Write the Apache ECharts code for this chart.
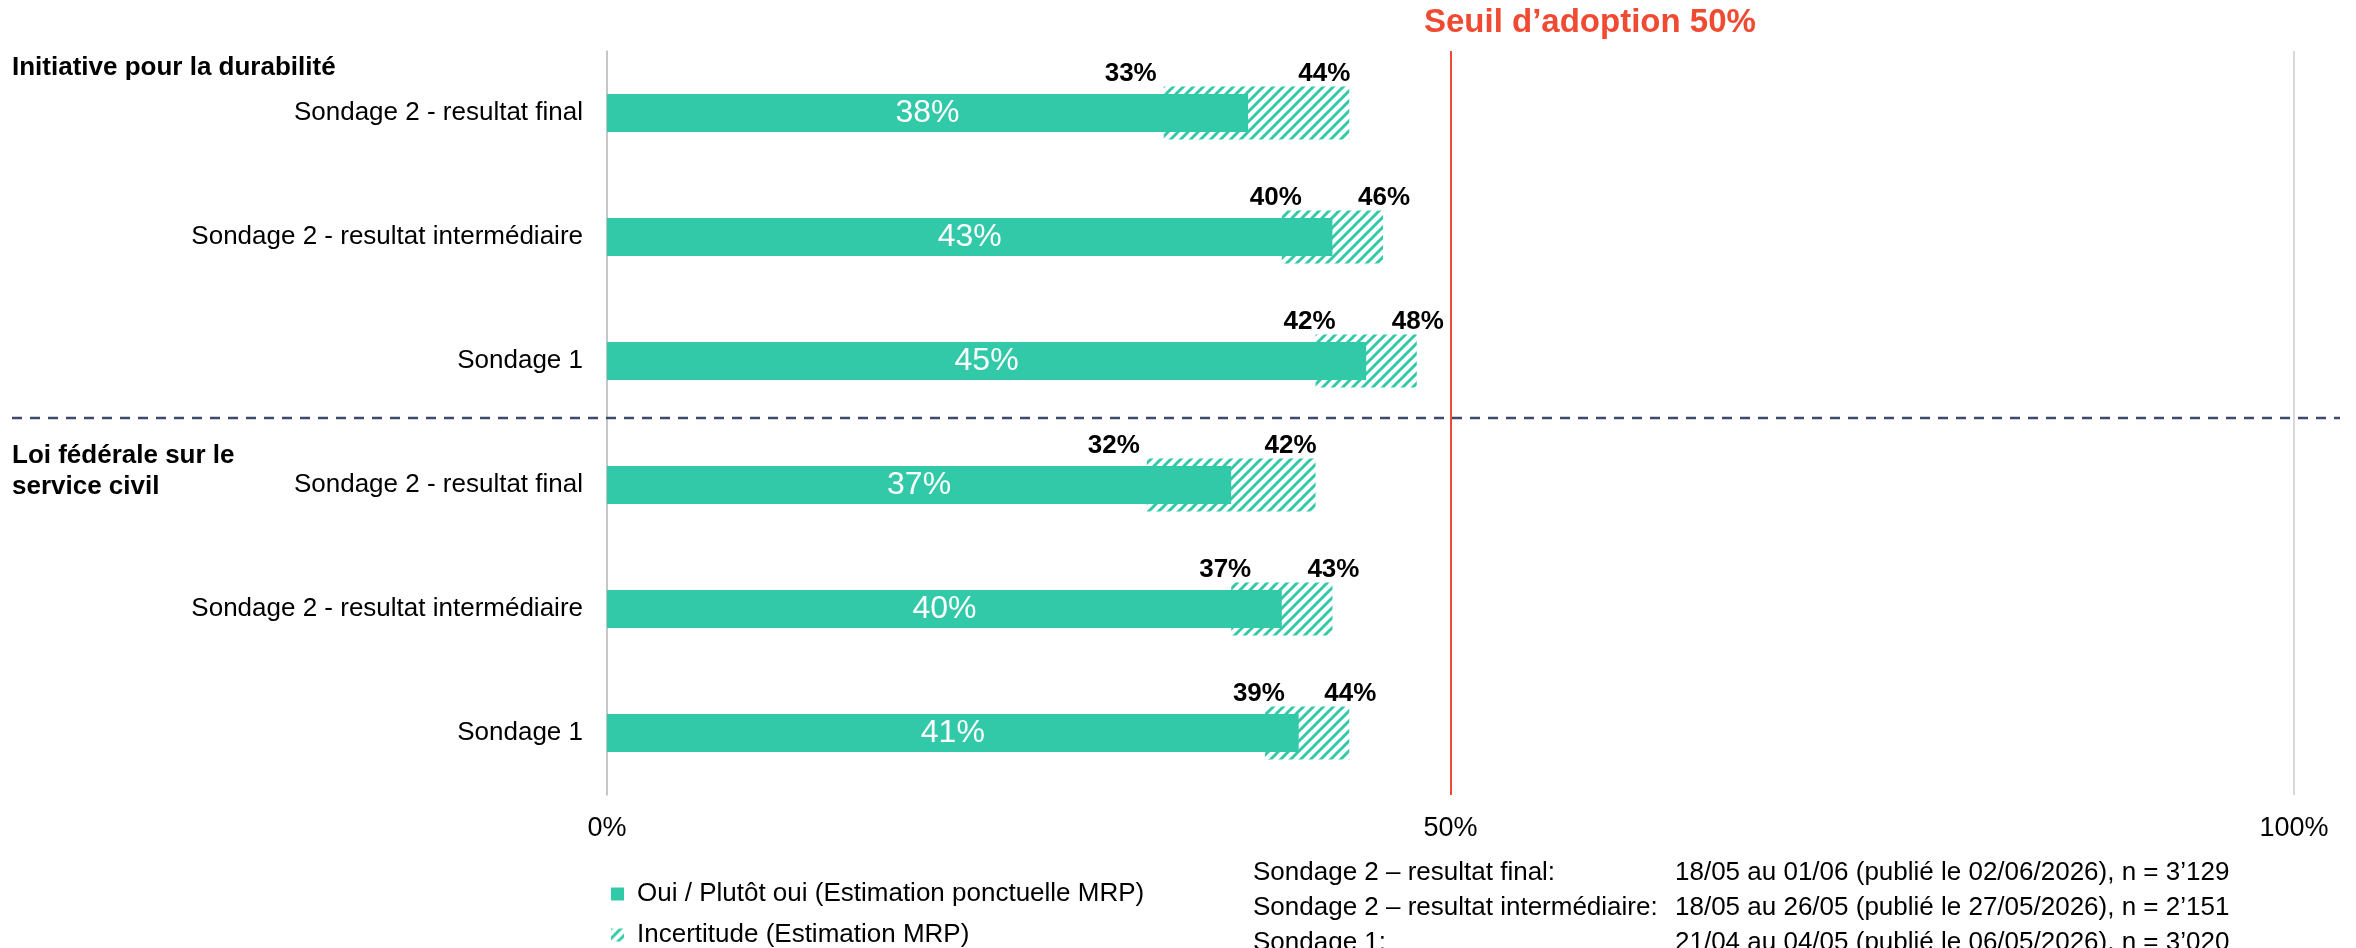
<!DOCTYPE html>
<html><head><meta charset="utf-8">
<script src="https://cdn.jsdelivr.net/npm/echarts@6/dist/echarts.min.js"></script>
<style>html,body{margin:0;padding:0;background:#fff}#c{width:2356px;height:948px}</style>
</head><body><div id="c"></div>
<script>
// ---- data ----
const categories = [
  'Sondage 2 - resultat final',
  'Sondage 2 - resultat intermédiaire',
  'Sondage 1',
  'Sondage 2 - resultat final',
  'Sondage 2 - resultat intermédiaire',
  'Sondage 1'
];
const estimate  = [38, 43, 45, 37, 40, 41];
const lowBound  = [33, 40, 42, 32, 37, 39];
const highBound = [44, 46, 48, 42, 43, 44];
const xTickValues = [0, 50, 100];
const groupLabels = ['Initiative pour la durabilité', 'Loi fédérale sur le\nservice civil'];
const legendNames = ['Oui / Plutôt oui (Estimation ponctuelle MRP)', 'Incertitude (Estimation MRP)'];
const thresholdValue = 50;
const thresholdLabel = 'Seuil d’adoption 50%';
const footLabels = ['Sondage 2 – resultat final:', 'Sondage 2 – resultat intermédiaire:', 'Sondage 1:'];
const footDetails = [
  '18/05 au 01/06 (publié le 02/06/2026), n = 3’129',
  '18/05 au 26/05 (publié le 27/05/2026), n = 2’151',
  '21/04 au 04/05 (publié le 06/05/2026), n = 3’020'
];

// ---- style ----
const TEAL = '#32C9A8';
const RED = '#F04A32';
const FONT = "'Liberation Sans', Arial, sans-serif";

const pc = document.createElement('canvas');
pc.width = 10; pc.height = 10;
const g = pc.getContext('2d');
g.strokeStyle = TEAL; g.lineWidth = 3;
for (let k = -1; k <= 1; k++) {
  g.beginPath(); g.moveTo(k * 10 - 1, 11); g.lineTo(k * 10 + 11, -1); g.stroke();
}
const hatch = { image: pc, repeat: 'repeat' };

const wide = i => (highBound[i] - lowBound[i]) >= 9;
const endLabel = { show: true, position: ['100%', 0], verticalAlign: 'bottom', color: '#000',
  fontSize: 26, fontWeight: 'bold', fontFamily: FONT };

const legendBase = { orient: 'vertical', left: 606, itemWidth: 13, itemHeight: 13,
  icon: 'rect', selectedMode: false,
  textStyle: { fontSize: 26, color: '#000', fontFamily: FONT, padding: [0, 0, 0, 8] } };

const chart = echarts.init(document.getElementById('c'), null, { renderer: 'canvas' });
const option = {
  backgroundColor: '#fff',
  animation: false,
  textStyle: { fontFamily: FONT },
  title: { text: thresholdLabel, left: 1424, top: 6, padding: 0,
    textStyle: { color: RED, fontSize: 33, fontWeight: 'bold', fontFamily: FONT } },
  grid: { left: 607, right: 62, top: 51, bottom: 153, containLabel: false },
  legend: [
    Object.assign({}, legendBase, { data: [legendNames[0]], top: 876 }),
    Object.assign({}, legendBase, { data: [legendNames[1]], top: 917 })
  ],
  xAxis: {
    type: 'value', min: 0, max: 100, interval: 50,
    axisLine: { show: false }, axisTick: { show: false },
    splitLine: { show: true, lineStyle: { color: '#d9d9d9', width: 2 } },
    axisLabel: { fontSize: 27, color: '#000', margin: 20, fontFamily: FONT,
      formatter: v => xTickValues.includes(v) ? v + '%' : '' }
  },
  yAxis: [
    { type: 'category', data: categories, inverse: true,
      axisLine: { show: true, lineStyle: { color: '#bfbfbf', width: 1.5 } },
      axisTick: { show: false },
      axisLabel: { fontSize: 26, color: '#000', margin: 24, fontFamily: FONT } },
    { type: 'category', data: categories, inverse: true, show: false, position: 'left' }
  ],
  series: [
    { type: 'bar', yAxisIndex: 1, stack: 'u', barWidth: 53, silent: true, z: 1,
      itemStyle: { color: 'rgba(0,0,0,0)' },
      data: lowBound.map((v, i) => ({ value: v, label: Object.assign({}, endLabel, {
        align: wide(i) ? 'right' : 'center', offset: wide(i) ? [-7, 0] : [-6, 0],
        formatter: () => lowBound[i] + '%' }) })) },
    { name: legendNames[1], type: 'bar', yAxisIndex: 1, stack: 'u', barWidth: 53, z: 1,
      itemStyle: { color: hatch },
      data: highBound.map((v, i) => ({ value: v - lowBound[i], label: Object.assign({}, endLabel, {
        align: wide(i) ? 'right' : 'center', offset: [1, 0],
        formatter: () => highBound[i] + '%' }) })) },
    { name: legendNames[0], type: 'bar', yAxisIndex: 0, barWidth: 38, z: 3,
      itemStyle: { color: TEAL },
      label: { show: true, position: 'inside', color: '#fff', fontSize: 32, fontFamily: FONT,
        formatter: p => p.value + '%' },
      data: estimate,
      markLine: { silent: true, symbol: 'none', label: { show: false },
        lineStyle: { color: RED, width: 2, type: 'solid' },
        data: [{ xAxis: thresholdValue }] } }
  ],
  graphic: [
    { type: 'text', x: 12, y: 68, style: { text: groupLabels[0], fill: '#000',
      font: 'bold 26px ' + FONT, verticalAlign: 'middle' } },
    { type: 'text', x: 12, y: 471, style: { text: groupLabels[1], fill: '#000',
      font: 'bold 26px ' + FONT, verticalAlign: 'middle', lineHeight: 31 } },
    { type: 'line', z: 5, shape: { x1: 12, y1: 418, x2: 2340, y2: 418 },
      style: { stroke: '#3D4A6B', lineWidth: 2.5, lineDash: [10, 8] } }
  ].concat(footLabels.map((t, i) => ({ type: 'text', x: 1253, y: 873 + i * 35,
      style: { text: t, fill: '#000', font: '26px ' + FONT, verticalAlign: 'middle' } })))
   .concat(footDetails.map((t, i) => ({ type: 'text', x: 1675, y: 873 + i * 35,
      style: { text: t, fill: '#000', font: '26px ' + FONT, verticalAlign: 'middle' } })))
};
chart.setOption(option);
</script></body></html>
